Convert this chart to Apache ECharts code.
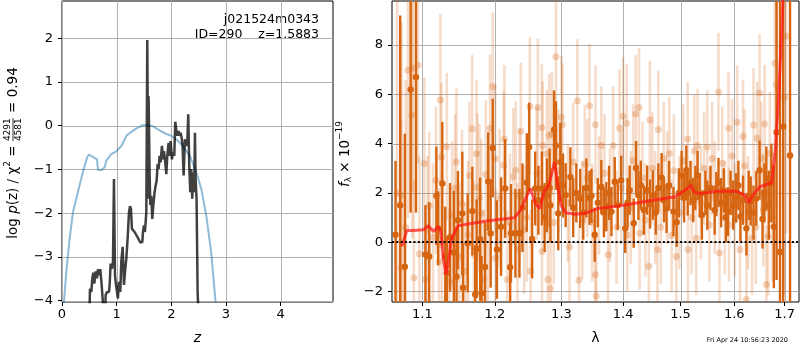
<!DOCTYPE html>
<html><head><meta charset="utf-8">
<script src="https://cdn.jsdelivr.net/npm/echarts@6/dist/echarts.min.js"></script>
<style>html,body{margin:0;padding:0;background:#fff}#c{width:800px;height:350px}</style>
</head><body><div id="c"></div><script>
// ---------- data ----------
// left panel: p(z) curve (blue) and chi2 curve (black)
const pzZ    = [0.03,0.037,0.079,0.14,0.2,0.29,0.38,0.46,0.49,0.57,0.64,0.66,0.72,0.78,0.81,0.9,0.99,1.09,1.18,1.27,1.36,1.48,1.57,1.66,1.79,1.91,2.0,2.09,2.21,2.34,2.46,2.55,2.64,2.73,2.81,2.83];
const pzLogp = [-4.3,-4.02,-3.34,-2.58,-1.98,-1.52,-1.07,-0.73,-0.66,-0.72,-0.77,-1.01,-1.02,-0.95,-0.8,-0.65,-0.59,-0.46,-0.23,-0.14,-0.06,0.01,0.015,-0.01,-0.11,-0.19,-0.23,-0.31,-0.46,-0.69,-1.07,-1.45,-2.05,-2.89,-4.02,-4.3];
const chiZ    = [0.506,0.512,0.537,0.555,0.573,0.591,0.616,0.64,0.659,0.677,0.701,0.726,0.756,0.793,0.799,0.823,0.86,0.872,0.89,0.915,0.933,0.951,0.97,0.988,1.006,1.024,1.043,1.067,1.085,1.11,1.134,1.159,1.177,1.201,1.226,1.244,1.262,1.28,1.311,1.329,1.36,1.384,1.409,1.433,1.47,1.482,1.5,1.518,1.543,1.561,1.579,1.585,1.604,1.616,1.634,1.652,1.671,1.695,1.713,1.732,1.75,1.768,1.787,1.805,1.829,1.848,1.866,1.884,1.909,1.927,1.951,1.97,1.988,2.012,2.03,2.055,2.073,2.091,2.11,2.134,2.152,2.171,2.189,2.207,2.226,2.25,2.274,2.293,2.311,2.329,2.348,2.366,2.384,2.402,2.421,2.433,2.445,2.463,2.482,2.494];
const chiLogp = [-4.1,-3.73,-3.8,-3.49,-3.36,-3.61,-3.33,-3.49,-3.28,-3.42,-3.28,-3.64,-4.17,-4.17,-3.87,-3.8,-3.8,-3.64,-3.15,-3.27,-3.11,-1.22,-3.42,-3.64,-3.8,-3.95,-3.57,-3.8,-3.11,-2.77,-3.64,-3.27,-3.04,-2.58,-1.98,-1.84,-1.9,-2.36,-2.38,-2.43,-2.43,-2.55,-2.58,-2.67,-2.66,-2.43,-2.28,-2.43,-1.98,1.96,-1.67,0.67,-1.14,-1.81,-1.6,-2.13,-1.83,-1.52,-1.37,-1.26,-0.88,-0.99,-0.69,-0.84,-0.46,-0.77,-0.58,-0.77,-1.11,-0.69,-0.39,-0.69,-0.35,-0.77,-0.61,-0.69,0.09,-0.08,-0.23,-0.12,-0.23,-0.16,-0.27,-0.46,-1.14,-0.31,-0.46,-0.39,0.26,-0.92,-1.52,-0.99,-1.67,-1.07,-1.52,-0.16,-1.22,-1.67,-3.8,-4.17];

// right panel: model spectrum (red)
const modelLam  = [1.0731,1.0796,1.0882,1.1013,1.108,1.1146,1.1213,1.1245,1.128,1.1316,1.1347,1.1393,1.148,1.1684,1.1913,1.2098,1.2286,1.238,1.2452,1.2524,1.2597,1.267,1.2729,1.2803,1.2854,1.2893,1.2943,1.2993,1.3068,1.322,1.3374,1.3582,1.4006,1.4452,1.4914,1.5032,1.5135,1.5184,1.5245,1.5368,1.565,1.6038,1.6199,1.6284,1.6364,1.6499,1.6736,1.6807,1.6875,1.6943,1.6976];
const modelFlux = [-0.17,0.47,0.47,0.5,0.67,0.43,0.63,0.43,-0.65,-1.32,-0.79,0.16,0.66,0.77,0.87,0.93,0.99,1.31,1.77,2.18,1.57,1.37,2.04,2.31,2.84,3.25,2.31,1.5,1.19,1.13,1.17,1.37,1.5,1.68,1.84,2.04,2.2,2.31,2.04,1.97,2.07,2.07,1.91,1.61,1.91,2.25,2.41,3.66,5.81,8.76,10.5];

// right panel: binned spectrum (dark orange) [lambda, flux, error]
const darkLam  = [1.065,1.071,1.077,1.0845,1.0915,1.104,1.109,1.1186,1.121,1.1266,1.1306,1.1327,1.137,1.1423,1.146,1.148,1.154,1.155,1.1615,1.168,1.172,1.174,1.179,1.181,1.186,1.1905,1.194,1.197,1.203,1.209,1.215,1.2223,1.2235,1.23,1.236,1.2405,1.247,1.2505,1.255,1.2596,1.2645,1.2698,1.274,1.2775,1.2817,1.2829,1.2885,1.2914,1.295,1.2982,1.3025,1.3066,1.314,1.3185,1.3235,1.3296,1.3345,1.3395,1.3446,1.3478,1.353,1.358,1.3638,1.368,1.372,1.3765,1.3805,1.386,1.391,1.3968,1.4035,1.4075,1.411,1.418,1.422,1.426,1.43,1.4355,1.441,1.446,1.451,1.456,1.4605,1.4663,1.4705,1.475,1.4795,1.4873,1.493,1.497,1.5019,1.5065,1.5105,1.513,1.518,1.523,1.527,1.531,1.535,1.539,1.5455,1.549,1.555,1.5628,1.566,1.57,1.575,1.58,1.584,1.588,1.593,1.598,1.6037,1.608,1.612,1.617,1.6235,1.628,1.632,1.6375,1.643,1.6495,1.6553,1.659,1.663,1.668,1.673,1.678,1.6835,1.6905,1.697,1.711];
const darkFlux = [0.3,1.5,-1.0,6.2,6.7,-0.5,-0.58,1.88,0.56,2.38,-0.56,-1.26,0.2,-0.42,-1.4,0.89,1.17,-1.85,-0.04,1.26,-2.12,-0.27,0.12,-2.06,-1.01,2.46,0.35,3.82,-0.3,0.63,2.18,-1.02,0.36,0.36,0.36,1.4,2.42,3.86,0.13,2.18,1.7,2.18,1.0,1.9,2.2,1.5,4.56,3.92,1.17,3.25,2.3,1.91,2.65,1.4,2.0,1.77,1.2,2.2,1.8,1.88,0.3,1.6,2.24,1.2,1.44,2.0,1.24,2.45,1.5,2.51,0.56,1.6,2.11,0.77,3.01,1.9,2.31,1.3,2.11,1.55,1.91,1.2,2.2,2.62,1.7,1.37,2.3,1.24,0.81,2.0,2.71,1.8,2.92,1.98,2.4,1.71,2.2,2.71,1.9,1.1,2.0,1.5,2.2,1.3,1.95,2.42,1.6,2.1,1.0,1.24,2.0,1.5,1.8,2.3,1.04,1.7,0.56,1.9,1.67,1.2,1.77,2.92,0.94,2.0,2.58,1.5,2.4,0.63,4.46,-0.4,4.7,3.52];
const darkErr  = [3.0,7.7,5.4,5.0,5.5,2.0,2.2,2.0,1.5,2.5,2.0,1.5,2.2,2.5,2.0,2.0,2.5,1.8,2.0,1.8,2.0,2.0,2.5,1.5,1.8,2.0,2.2,2.0,2.0,2.0,2.0,1.8,2.0,1.8,1.8,1.8,2.0,1.8,1.6,1.5,1.4,1.5,1.4,1.5,1.6,1.5,1.6,1.8,1.5,1.6,1.3,1.3,1.2,1.2,1.2,1.2,1.1,1.2,1.1,1.1,1.1,1.0,1.1,1.0,1.0,1.1,1.0,1.0,1.0,1.0,1.0,1.0,1.0,1.0,1.1,1.0,1.0,1.0,1.0,1.0,1.0,0.9,1.0,1.0,0.9,1.0,1.0,1.0,1.0,1.0,1.0,1.0,1.0,0.9,0.9,0.9,0.9,1.0,0.9,1.0,0.9,1.0,0.9,1.0,0.9,1.0,1.0,0.9,1.0,1.0,0.9,1.0,1.0,1.0,1.0,1.0,1.1,1.0,1.0,1.1,1.1,1.2,1.2,1.2,1.3,1.4,1.6,2.5,6.0,14,14,14];

// right panel: unbinned spectrum (light orange) [lambda, flux, error]
const lightLam  = [1.067,1.072,1.073,1.078,1.081,1.0865,1.0874,1.0887,1.094,1.096,1.1026,1.104,1.107,1.109,1.114,1.118,1.122,1.124,1.1253,1.126,1.1327,1.136,1.14,1.144,1.1459,1.15,1.1535,1.158,1.162,1.164,1.1678,1.17,1.1739,1.1752,1.178,1.1805,1.184,1.187,1.19,1.193,1.197,1.2005,1.201,1.207,1.213,1.2138,1.218,1.222,1.227,1.2305,1.233,1.236,1.238,1.243,1.247,1.2515,1.2527,1.262,1.2637,1.2697,1.27,1.271,1.2774,1.279,1.281,1.2832,1.285,1.288,1.2914,1.295,1.3,1.3015,1.31,1.3126,1.3184,1.325,1.3276,1.333,1.337,1.341,1.3446,1.349,1.354,1.3543,1.3556,1.36,1.3638,1.369,1.3748,1.378,1.3833,1.389,1.394,1.397,1.4,1.406,1.407,1.413,1.417,1.4214,1.427,1.428,1.433,1.438,1.444,1.4458,1.45,1.455,1.459,1.4605,1.465,1.47,1.476,1.48,1.484,1.488,1.4925,1.498,1.505,1.513,1.5135,1.52,1.525,1.5285,1.531,1.537,1.543,1.549,1.553,1.558,1.563,1.57,1.5718,1.577,1.582,1.589,1.59,1.596,1.601,1.6057,1.611,1.617,1.62,1.6236,1.627,1.6347,1.6375,1.642,1.6447,1.6495,1.653,1.657,1.6595,1.663,1.6665,1.67,1.675,1.68,1.683,1.6995,1.703];
const lightFlux = [2.0,-1.05,1.91,0.59,6.98,5.16,7.06,-1.45,7.18,-0.48,3.19,-1.52,0.5,1.48,0.2,2.5,-0.8,5.77,3.46,-0.11,3.87,-1.6,1.1,2.2,3.25,-0.6,1.57,-1.2,0.3,2.71,4.6,-0.5,3.59,2.22,1.8,1.17,-1.5,2.75,0.6,4.62,6.32,3.39,-0.65,1.8,3.12,4.19,-1.52,0.8,2.65,2.92,-0.3,1.9,4.5,0.5,1.0,5.51,-1.18,2.8,5.47,4.64,-0.38,3.92,3.59,-1.52,4.33,-1.88,4.4,0.8,7.53,2.9,5.07,4.77,1.6,-0.2,3.25,5.74,-1.55,0.9,3.16,2.6,5.54,0.8,-1.32,4.77,-2.19,1.9,3.92,2.8,-0.51,1.5,3.92,0.6,4.62,2.2,5.11,4.83,0.29,1.4,3.3,5.2,5.47,0.36,2.6,0.9,-0.98,4.96,3.0,1.4,-0.31,4.57,0.6,3.4,2.2,3.6,0.27,2.9,-0.58,1.2,3.3,4.19,-0.31,1.0,3.7,0.16,3.92,1.6,3.0,3.86,0.7,3.4,1.8,6.1,-0.44,3.2,1.0,4.62,0.7,3.5,0.9,4.87,-0.31,4.3,3.1,-2.33,1.2,0.16,4.76,0.6,4.22,6.05,3.4,1.3,4.8,-1.72,0.23,3.6,1.0,7.26,6.4,5.87,8.36];
const lightErr  = [9,6,7,6,6,5,5,4,4,4,3.5,3,3,3,3,3,3,3.5,3,3,3,3,3,3,3,3,3,2.8,3,3,3,3,3,3,3,3,2.8,3,3,3,3,3,2.8,2.8,3,3,2.8,2.8,2.8,2.8,2.7,2.7,2.8,2.6,2.6,2.8,2.5,2.7,2.8,2.6,2.5,2.6,2.6,2.5,2.5,2.5,2.5,2.5,2.5,2.5,2.5,2.5,2.4,2.4,2.4,2.5,2.4,2.4,2.4,2.4,2.5,2.4,2.4,2.4,2.4,2.4,2.4,2.4,2.4,2.3,2.4,2.3,2.4,2.3,2.4,2.4,2.3,2.3,2.3,2.4,2.4,2.3,2.3,2.3,2.3,2.4,2.3,2.3,2.3,2.4,2.3,2.3,2.3,2.3,2.3,2.3,2.3,2.3,2.3,2.3,2.3,2.3,2.3,2.3,2.3,2.3,2.3,2.3,2.3,2.3,2.3,2.4,2.3,2.3,2.3,2.3,2.3,2.3,2.3,2.3,2.3,2.3,2.3,2.3,2.3,2.3,2.3,2.3,2.3,2.4,2.3,2.3,2.4,2.4,2.4,2.5,2.6,4,5,8,8];

// tick labels
const zTicks    = [0,1,2,3,4];
const logpTicks = [-4,-3,-2,-1,0,1,2];
const lamTicks  = [1.1,1.2,1.3,1.4,1.5,1.6,1.7];
const fluxTicks = [-2,0,2,4,6,8];

// texts
const objName = 'j021524m0343';
const objInfo = 'ID=290    z=1.5883';
const stamp   = 'Fri Apr 24 10:56:23 2020';

// ---------- helpers ----------
const FONT = 'DejaVu Sans';
const ORANGE = 'rgb(214,101,17)';
const ORANGE_BAR = 'rgba(214,101,17,0.22)';
const ORANGE_DOT = 'rgba(214,101,17,0.28)';
function zip2(a, b, fx) { const n = Math.min(a.length, b.length), o = []; for (let i = 0; i < n; i++) o.push([fx ? fx(a[i]) : a[i], b[i]]); return o; }
function zip3(a, b, c) { const n = Math.min(a.length, b.length, c.length), o = []; for (let i = 0; i < n; i++) o.push([Math.log(a[i]), b[i], c[i]]); return o; }
const minus = v => (v < 0 ? '\u2212' + Math.abs(v) : String(v));

function errRender(barColor, dotColor, lw, r) {
  return function (params, api) {
    const x = api.value(0), y = api.value(1), e = api.value(2);
    const p0 = api.coord([x, y - e]), p1 = api.coord([x, y + e]), c = api.coord([x, y]);
    return { type: 'group', children: [
      { type: 'line', shape: { x1: p0[0], y1: p0[1], x2: p1[0], y2: p1[1] }, style: { stroke: barColor, lineWidth: lw } },
      { type: 'circle', shape: { cx: c[0], cy: c[1], r: r }, style: { fill: dotColor } }
    ] };
  };
}

// grid lines at the tick values, positioned through the axes' own scales
function gridLineSeries(idx, xs, ys) {
  const data = xs.map(v => [v, ys[0], 0]).concat(ys.map(v => [xs[0], v, 1]));
  return {
    type: 'custom', xAxisIndex: idx, yAxisIndex: idx, data: data, z: 1, silent: true, clip: false,
    renderItem: function (params, api) {
      const cs = params.coordSys;
      const p = api.coord([api.value(0), api.value(1)]);
      if (api.value(2) === 0) {
        const x = Math.round(p[0]) + 0.5;
        return { type: 'line', shape: { x1: x, y1: cs.y, x2: x, y2: cs.y + cs.height }, style: { stroke: '#b0b0b0', lineWidth: 1 } };
      }
      const y = Math.round(p[1]) + 0.5;
      return { type: 'line', shape: { x1: cs.x, y1: y, x2: cs.x + cs.width, y2: y }, style: { stroke: '#b0b0b0', lineWidth: 1 } };
    }
  };
}

const ctx = document.createElement('canvas').getContext('2d');
function tw(t, size, style) { ctx.font = (style || 'normal') + ' ' + size + 'px "' + FONT + '"'; return ctx.measureText(t).width; }
function seqLabel(pieces) {
  let x = 0; const out = [];
  pieces.forEach(p => {
    if (p.num) {
      const w = Math.max(tw(p.num, p.size), tw(p.den, p.size));
      const f = p.size + 'px "' + FONT + '"';
      out.push({ type: 'text', x: x + w / 2, y: -p.size * 0.6, style: { text: p.num, font: f, fill: '#000', textAlign: 'center', textVerticalAlign: 'middle' } });
      out.push({ type: 'text', x: x + w / 2, y: p.size * 0.65, style: { text: p.den, font: f, fill: '#000', textAlign: 'center', textVerticalAlign: 'middle' } });
      out.push({ type: 'line', shape: { x1: x, y1: 0, x2: x + w, y2: 0 }, style: { stroke: '#000', lineWidth: 0.8 } });
      x += w + 1;
    } else {
      out.push({ type: 'text', x: x, y: p.dy || 0, style: { text: p.t, font: (p.style || 'normal') + ' ' + p.size + 'px "' + FONT + '"', fill: '#000', textAlign: 'left', textVerticalAlign: 'middle' } });
      x += tw(p.t, p.size, p.style);
    }
  });
  return { children: out, width: x };
}

const leftLab = seqLabel([
  { t: 'log ', size: 13.5 }, { t: 'p', size: 13.5, style: 'italic' }, { t: '(z) / \u03c7', size: 13.5 },
  { t: '2', size: 9, dy: -5 }, { t: ' = ', size: 13.5 },
  { num: '4291', den: '4581', size: 9 },
  { t: ' = 0.94', size: 13.5 }
]);
const rightLab = seqLabel([
  { t: 'f', size: 13.5, style: 'italic' }, { t: '\u03bb', size: 9, dy: 4 }, { t: ' \u00d7 10', size: 13.5 }, { t: '\u221219', size: 9, dy: -5 }
]);

function axisX(min, max, ticks, fmt, name, nameStyle, gridIndex) {
  return {
    type: 'value', gridIndex, min, max,
    axisLine: { show: false, onZero: false },
    axisTick: { show: true, inside: false, length: 4, lineStyle: { color: '#000', width: 1 }, customValues: ticks },
    axisLabel: { color: '#000', fontSize: 13, fontFamily: FONT, margin: 6, customValues: ticks, formatter: fmt },
    splitLine: { show: false },
    name, nameLocation: 'middle', nameGap: 29,
    nameTextStyle: Object.assign({ color: '#000', fontSize: 14, fontFamily: FONT }, nameStyle)
  };
}
function axisY(min, max, ticks, gridIndex) {
  return {
    type: 'value', gridIndex, min, max,
    axisLine: { show: false, onZero: false },
    axisTick: { show: true, inside: false, length: 4, lineStyle: { color: '#000', width: 1 }, customValues: ticks },
    axisLabel: { color: '#000', fontSize: 13, fontFamily: FONT, margin: 9, customValues: ticks, formatter: minus },
    splitLine: { show: false }
  };
}

const lamTickVals = lamTicks.map(v => Math.log(v));
const chart = echarts.init(document.getElementById('c'), null, { renderer: 'canvas' });
chart.setOption({
  animation: false,
  backgroundColor: '#fff',
  textStyle: { fontFamily: FONT },
  grid: [
    { left: 62, top: 1, width: 271, height: 302, show: true, borderColor: '#000', borderWidth: 1, backgroundColor: 'transparent' },
    { left: 392, top: 1, width: 407, height: 303, show: true, borderColor: '#000', borderWidth: 1, backgroundColor: 'transparent' }
  ],
  xAxis: [
    axisX(0, 4.96, zTicks, v => String(v), 'z', { fontStyle: 'italic' }, 0),
    axisX(Math.log(1.0605), Math.log(1.7295), lamTickVals, v => Math.exp(v).toFixed(1), '\u03bb', {}, 1)
  ],
  yAxis: [
    axisY(-4.03, 2.85, logpTicks, 0),
    axisY(-2.43, 9.79, fluxTicks, 1)
  ],
  series: [
    gridLineSeries(0, zTicks, logpTicks),
    gridLineSeries(1, lamTickVals, fluxTicks),
    { type: 'line', xAxisIndex: 0, yAxisIndex: 0, data: zip2(pzZ, pzLogp), showSymbol: false, clip: true,
      lineStyle: { color: 'rgba(31,119,180,0.5)', width: 2 }, z: 2 },
    { type: 'line', xAxisIndex: 0, yAxisIndex: 0, data: zip2(chiZ, chiLogp), showSymbol: false, clip: true,
      lineStyle: { color: 'rgba(0,0,0,0.75)', width: 2.5 }, z: 3 },
    { type: 'custom', xAxisIndex: 1, yAxisIndex: 1, data: zip3(lightLam, lightFlux, lightErr), clip: true,
      renderItem: errRender(ORANGE_BAR, ORANGE_DOT, 2.6, 3.5), z: 2 },
    { type: 'custom', xAxisIndex: 1, yAxisIndex: 1, data: zip3(darkLam, darkFlux, darkErr), clip: true,
      renderItem: errRender(ORANGE, ORANGE, 2.4, 3.2), z: 3 },
    { type: 'line', xAxisIndex: 1, yAxisIndex: 1, data: zip2(modelLam, modelFlux, Math.log), showSymbol: false, clip: true,
      lineStyle: { color: 'rgba(255,20,20,0.7)', width: 3 }, z: 4,
      markLine: { silent: true, symbol: 'none', label: { show: false }, animation: false,
        lineStyle: { color: '#000', type: [2, 2.3], width: 2 }, data: [{ yAxis: 0 }] } }
  ],
  graphic: [
    { type: 'group', x: 13, y: 153 + leftLab.width / 2, rotation: Math.PI / 2, children: leftLab.children },
    { type: 'group', x: 345, y: 154 + rightLab.width / 2, rotation: Math.PI / 2, children: rightLab.children },
    { type: 'text', x: 319, y: 20, style: { text: objName, font: '12.5px "' + FONT + '"', fill: '#000', textAlign: 'right', textVerticalAlign: 'middle' } },
    { type: 'text', x: 319, y: 35, style: { text: objInfo, font: '12.5px "' + FONT + '"', fill: '#000', textAlign: 'right', textVerticalAlign: 'middle' } },
    { type: 'text', x: 788, y: 340, style: { text: stamp, font: '6.5px "' + FONT + '"', fill: '#000', textAlign: 'right', textVerticalAlign: 'middle' } }
  ]
});
</script></body></html>
